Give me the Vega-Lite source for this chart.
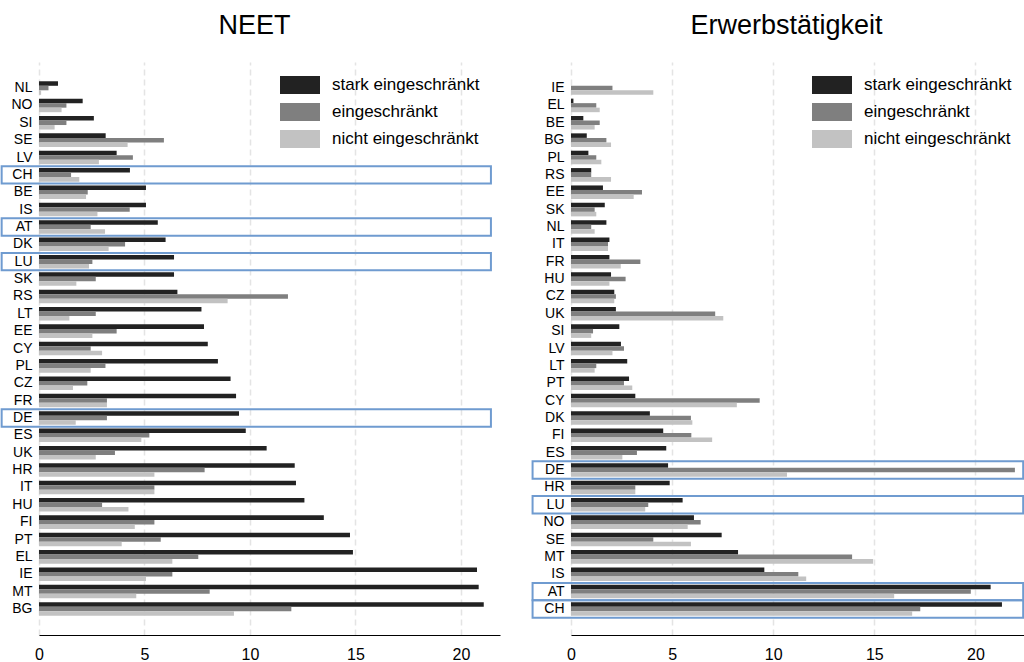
{
  "$schema": "https://vega.github.io/schema/vega-lite/v6.json",
  "padding": {"left": 0, "top": 12, "right": 0, "bottom": 0},
  "background": "white",
  "bounds": "flush",
  "spacing": 71,
  "config": {
    "font": "Liberation Sans",
    "view": {"stroke": null},
    "axisY": {"domain": false, "ticks": false, "tickSize": 0, "labelPadding": 7, "labelFontSize": 14, "labelColor": "black", "grid": false, "title": null},
    "axisX": {"domain": true, "domainColor": "black", "domainWidth": 1, "ticks": false, "tickSize": 0, "labelPadding": 11, "labelFontSize": 16, "labelColor": "black", "grid": true, "gridDash": [6, 4], "gridColor": "#e4e4e4", "gridWidth": 1.5, "title": null, "labelFlush": false},
    "legend": {"orient": "none", "legendX": 251, "legendY": 13, "title": null, "symbolType": "M-2,-0.9L2,-0.9L2,0.9L-2,0.9Z", "symbolSize": 400, "symbolStrokeWidth": 0, "labelFontSize": 17, "labelOffset": 22, "rowPadding": 8, "labelLimit": 300, "labelColor": "black", "padding": 0, "symbolOpacity": 1}
  },
  "resolve": {"scale": {"x": "independent", "y": "independent", "yOffset": "independent", "color": "independent"}, "axis": {"x": "independent", "y": "independent"}, "legend": {"color": "independent"}},
  "datasets": {
    "hl": [{"land": "CH"}, {"land": "AT"}, {"land": "LU"}, {"land": "DE"}],
    "neet": [
      {"land": "NL", "gruppe": "stark eingeschränkt", "wert": 0.9}, {"land": "NL", "gruppe": "eingeschränkt", "wert": 0.45}, {"land": "NL", "gruppe": "nicht eingeschränkt", "wert": 0.1},
      {"land": "NO", "gruppe": "stark eingeschränkt", "wert": 2.07}, {"land": "NO", "gruppe": "eingeschränkt", "wert": 1.3}, {"land": "NO", "gruppe": "nicht eingeschränkt", "wert": 1.07},
      {"land": "SI", "gruppe": "stark eingeschränkt", "wert": 2.6}, {"land": "SI", "gruppe": "eingeschränkt", "wert": 1.3}, {"land": "SI", "gruppe": "nicht eingeschränkt", "wert": 0.74},
      {"land": "SE", "gruppe": "stark eingeschränkt", "wert": 3.16}, {"land": "SE", "gruppe": "eingeschränkt", "wert": 5.92}, {"land": "SE", "gruppe": "nicht eingeschränkt", "wert": 4.2},
      {"land": "LV", "gruppe": "stark eingeschränkt", "wert": 3.68}, {"land": "LV", "gruppe": "eingeschränkt", "wert": 4.45}, {"land": "LV", "gruppe": "nicht eingeschränkt", "wert": 2.84},
      {"land": "CH", "gruppe": "stark eingeschränkt", "wert": 4.31}, {"land": "CH", "gruppe": "eingeschränkt", "wert": 1.52}, {"land": "CH", "gruppe": "nicht eingeschränkt", "wert": 1.91},
      {"land": "BE", "gruppe": "stark eingeschränkt", "wert": 5.07}, {"land": "BE", "gruppe": "eingeschränkt", "wert": 2.31}, {"land": "BE", "gruppe": "nicht eingeschränkt", "wert": 2.23},
      {"land": "IS", "gruppe": "stark eingeschränkt", "wert": 5.07}, {"land": "IS", "gruppe": "eingeschränkt", "wert": 4.3}, {"land": "IS", "gruppe": "nicht eingeschränkt", "wert": 2.77},
      {"land": "AT", "gruppe": "stark eingeschränkt", "wert": 5.63}, {"land": "AT", "gruppe": "eingeschränkt", "wert": 2.45}, {"land": "AT", "gruppe": "nicht eingeschränkt", "wert": 3.13},
      {"land": "DK", "gruppe": "stark eingeschränkt", "wert": 6.0}, {"land": "DK", "gruppe": "eingeschränkt", "wert": 4.08}, {"land": "DK", "gruppe": "nicht eingeschränkt", "wert": 3.3},
      {"land": "LU", "gruppe": "stark eingeschränkt", "wert": 6.4}, {"land": "LU", "gruppe": "eingeschränkt", "wert": 2.53}, {"land": "LU", "gruppe": "nicht eingeschränkt", "wert": 2.37},
      {"land": "SK", "gruppe": "stark eingeschränkt", "wert": 6.4}, {"land": "SK", "gruppe": "eingeschränkt", "wert": 2.69}, {"land": "SK", "gruppe": "nicht eingeschränkt", "wert": 1.77},
      {"land": "RS", "gruppe": "stark eingeschränkt", "wert": 6.56}, {"land": "RS", "gruppe": "eingeschränkt", "wert": 11.8}, {"land": "RS", "gruppe": "nicht eingeschränkt", "wert": 8.94},
      {"land": "LT", "gruppe": "stark eingeschränkt", "wert": 7.7}, {"land": "LT", "gruppe": "eingeschränkt", "wert": 2.69}, {"land": "LT", "gruppe": "nicht eingeschränkt", "wert": 1.44},
      {"land": "EE", "gruppe": "stark eingeschränkt", "wert": 7.82}, {"land": "EE", "gruppe": "eingeschränkt", "wert": 3.68}, {"land": "EE", "gruppe": "nicht eingeschränkt", "wert": 2.53},
      {"land": "CY", "gruppe": "stark eingeschränkt", "wert": 8.0}, {"land": "CY", "gruppe": "eingeschränkt", "wert": 2.45}, {"land": "CY", "gruppe": "nicht eingeschränkt", "wert": 2.99},
      {"land": "PL", "gruppe": "stark eingeschränkt", "wert": 8.48}, {"land": "PL", "gruppe": "eingeschränkt", "wert": 3.15}, {"land": "PL", "gruppe": "nicht eingeschränkt", "wert": 2.45},
      {"land": "CZ", "gruppe": "stark eingeschränkt", "wert": 9.08}, {"land": "CZ", "gruppe": "eingeschränkt", "wert": 2.29}, {"land": "CZ", "gruppe": "nicht eingeschränkt", "wert": 1.61},
      {"land": "FR", "gruppe": "stark eingeschränkt", "wert": 9.34}, {"land": "FR", "gruppe": "eingeschränkt", "wert": 3.22}, {"land": "FR", "gruppe": "nicht eingeschränkt", "wert": 3.22},
      {"land": "DE", "gruppe": "stark eingeschränkt", "wert": 9.48}, {"land": "DE", "gruppe": "eingeschränkt", "wert": 3.22}, {"land": "DE", "gruppe": "nicht eingeschränkt", "wert": 1.74},
      {"land": "ES", "gruppe": "stark eingeschränkt", "wert": 9.8}, {"land": "ES", "gruppe": "eingeschränkt", "wert": 5.23}, {"land": "ES", "gruppe": "nicht eingeschränkt", "wert": 4.85},
      {"land": "UK", "gruppe": "stark eingeschränkt", "wert": 10.79}, {"land": "UK", "gruppe": "eingeschränkt", "wert": 3.6}, {"land": "UK", "gruppe": "nicht eingeschränkt", "wert": 2.69},
      {"land": "HR", "gruppe": "stark eingeschränkt", "wert": 12.12}, {"land": "HR", "gruppe": "eingeschränkt", "wert": 7.85}, {"land": "HR", "gruppe": "nicht eingeschränkt", "wert": 5.47},
      {"land": "IT", "gruppe": "stark eingeschränkt", "wert": 12.18}, {"land": "IT", "gruppe": "eingeschränkt", "wert": 5.47}, {"land": "IT", "gruppe": "nicht eingeschränkt", "wert": 5.47},
      {"land": "HU", "gruppe": "stark eingeschränkt", "wert": 12.58}, {"land": "HU", "gruppe": "eingeschränkt", "wert": 2.99}, {"land": "HU", "gruppe": "nicht eingeschränkt", "wert": 4.24},
      {"land": "FI", "gruppe": "stark eingeschränkt", "wert": 13.5}, {"land": "FI", "gruppe": "eingeschränkt", "wert": 5.47}, {"land": "FI", "gruppe": "nicht eingeschränkt", "wert": 4.54},
      {"land": "PT", "gruppe": "stark eingeschränkt", "wert": 14.74}, {"land": "PT", "gruppe": "eingeschränkt", "wert": 5.77}, {"land": "PT", "gruppe": "nicht eingeschränkt", "wert": 3.92},
      {"land": "EL", "gruppe": "stark eingeschränkt", "wert": 14.88}, {"land": "EL", "gruppe": "eingeschränkt", "wert": 7.55}, {"land": "EL", "gruppe": "nicht eingeschränkt", "wert": 6.32},
      {"land": "IE", "gruppe": "stark eingeschränkt", "wert": 20.76}, {"land": "IE", "gruppe": "eingeschränkt", "wert": 6.32}, {"land": "IE", "gruppe": "nicht eingeschränkt", "wert": 5.07},
      {"land": "MT", "gruppe": "stark eingeschränkt", "wert": 20.84}, {"land": "MT", "gruppe": "eingeschränkt", "wert": 8.09}, {"land": "MT", "gruppe": "nicht eingeschränkt", "wert": 4.61},
      {"land": "BG", "gruppe": "stark eingeschränkt", "wert": 21.08}, {"land": "BG", "gruppe": "eingeschränkt", "wert": 11.96}, {"land": "BG", "gruppe": "nicht eingeschränkt", "wert": 9.24}
    ],
    "erwerb": [
      {"land": "IE", "gruppe": "stark eingeschränkt", "wert": 0}, {"land": "IE", "gruppe": "eingeschränkt", "wert": 2.05}, {"land": "IE", "gruppe": "nicht eingeschränkt", "wert": 4.07},
      {"land": "EL", "gruppe": "stark eingeschränkt", "wert": 0.12}, {"land": "EL", "gruppe": "eingeschränkt", "wert": 1.25}, {"land": "EL", "gruppe": "nicht eingeschränkt", "wert": 1.42},
      {"land": "BE", "gruppe": "stark eingeschränkt", "wert": 0.61}, {"land": "BE", "gruppe": "eingeschränkt", "wert": 1.42}, {"land": "BE", "gruppe": "nicht eingeschränkt", "wert": 1.17},
      {"land": "BG", "gruppe": "stark eingeschränkt", "wert": 0.78}, {"land": "BG", "gruppe": "eingeschränkt", "wert": 1.75}, {"land": "BG", "gruppe": "nicht eingeschränkt", "wert": 1.98},
      {"land": "PL", "gruppe": "stark eingeschränkt", "wert": 0.86}, {"land": "PL", "gruppe": "eingeschränkt", "wert": 1.25}, {"land": "PL", "gruppe": "nicht eingeschränkt", "wert": 1.5},
      {"land": "RS", "gruppe": "stark eingeschränkt", "wert": 1.0}, {"land": "RS", "gruppe": "eingeschränkt", "wert": 1.0}, {"land": "RS", "gruppe": "nicht eingeschränkt", "wert": 1.98},
      {"land": "EE", "gruppe": "stark eingeschränkt", "wert": 1.58}, {"land": "EE", "gruppe": "eingeschränkt", "wert": 3.51}, {"land": "EE", "gruppe": "nicht eingeschränkt", "wert": 3.1},
      {"land": "SK", "gruppe": "stark eingeschränkt", "wert": 1.67}, {"land": "SK", "gruppe": "eingeschränkt", "wert": 1.17}, {"land": "SK", "gruppe": "nicht eingeschränkt", "wert": 1.25},
      {"land": "NL", "gruppe": "stark eingeschränkt", "wert": 1.75}, {"land": "NL", "gruppe": "eingeschränkt", "wert": 1.0}, {"land": "NL", "gruppe": "nicht eingeschränkt", "wert": 1.17},
      {"land": "IT", "gruppe": "stark eingeschränkt", "wert": 1.9}, {"land": "IT", "gruppe": "eingeschränkt", "wert": 1.83}, {"land": "IT", "gruppe": "nicht eingeschränkt", "wert": 1.83},
      {"land": "FR", "gruppe": "stark eingeschränkt", "wert": 1.9}, {"land": "FR", "gruppe": "eingeschränkt", "wert": 3.43}, {"land": "FR", "gruppe": "nicht eingeschränkt", "wert": 2.46},
      {"land": "HU", "gruppe": "stark eingeschränkt", "wert": 1.98}, {"land": "HU", "gruppe": "eingeschränkt", "wert": 2.7}, {"land": "HU", "gruppe": "nicht eingeschränkt", "wert": 1.9},
      {"land": "CZ", "gruppe": "stark eingeschränkt", "wert": 2.14}, {"land": "CZ", "gruppe": "eingeschränkt", "wert": 2.22}, {"land": "CZ", "gruppe": "nicht eingeschränkt", "wert": 2.14},
      {"land": "UK", "gruppe": "stark eingeschränkt", "wert": 2.22}, {"land": "UK", "gruppe": "eingeschränkt", "wert": 7.13}, {"land": "UK", "gruppe": "nicht eingeschränkt", "wert": 7.53},
      {"land": "SI", "gruppe": "stark eingeschränkt", "wert": 2.39}, {"land": "SI", "gruppe": "eingeschränkt", "wert": 1.09}, {"land": "SI", "gruppe": "nicht eingeschränkt", "wert": 1.0},
      {"land": "LV", "gruppe": "stark eingeschränkt", "wert": 2.47}, {"land": "LV", "gruppe": "eingeschränkt", "wert": 2.62}, {"land": "LV", "gruppe": "nicht eingeschränkt", "wert": 2.05},
      {"land": "LT", "gruppe": "stark eingeschränkt", "wert": 2.78}, {"land": "LT", "gruppe": "eingeschränkt", "wert": 1.25}, {"land": "LT", "gruppe": "nicht eingeschränkt", "wert": 1.17},
      {"land": "PT", "gruppe": "stark eingeschränkt", "wert": 2.87}, {"land": "PT", "gruppe": "eingeschränkt", "wert": 2.62}, {"land": "PT", "gruppe": "nicht eingeschränkt", "wert": 3.03},
      {"land": "CY", "gruppe": "stark eingeschränkt", "wert": 3.18}, {"land": "CY", "gruppe": "eingeschränkt", "wert": 9.33}, {"land": "CY", "gruppe": "nicht eingeschränkt", "wert": 8.2},
      {"land": "DK", "gruppe": "stark eingeschränkt", "wert": 3.9}, {"land": "DK", "gruppe": "eingeschränkt", "wert": 5.93}, {"land": "DK", "gruppe": "nicht eingeschränkt", "wert": 6.0},
      {"land": "FI", "gruppe": "stark eingeschränkt", "wert": 4.56}, {"land": "FI", "gruppe": "eingeschränkt", "wert": 5.95}, {"land": "FI", "gruppe": "nicht eingeschränkt", "wert": 6.98},
      {"land": "ES", "gruppe": "stark eingeschränkt", "wert": 4.71}, {"land": "ES", "gruppe": "eingeschränkt", "wert": 3.26}, {"land": "ES", "gruppe": "nicht eingeschränkt", "wert": 2.54},
      {"land": "DE", "gruppe": "stark eingeschränkt", "wert": 4.8}, {"land": "DE", "gruppe": "eingeschränkt", "wert": 21.95}, {"land": "DE", "gruppe": "nicht eingeschränkt", "wert": 10.68},
      {"land": "HR", "gruppe": "stark eingeschränkt", "wert": 4.88}, {"land": "HR", "gruppe": "eingeschränkt", "wert": 3.18}, {"land": "HR", "gruppe": "nicht eingeschränkt", "wert": 3.18},
      {"land": "LU", "gruppe": "stark eingeschränkt", "wert": 5.52}, {"land": "LU", "gruppe": "eingeschränkt", "wert": 3.82}, {"land": "LU", "gruppe": "nicht eingeschränkt", "wert": 3.67},
      {"land": "NO", "gruppe": "stark eingeschränkt", "wert": 6.08}, {"land": "NO", "gruppe": "eingeschränkt", "wert": 6.41}, {"land": "NO", "gruppe": "nicht eingeschränkt", "wert": 5.77},
      {"land": "SE", "gruppe": "stark eingeschränkt", "wert": 7.45}, {"land": "SE", "gruppe": "eingeschränkt", "wert": 4.07}, {"land": "SE", "gruppe": "nicht eingeschränkt", "wert": 5.93},
      {"land": "MT", "gruppe": "stark eingeschränkt", "wert": 8.26}, {"land": "MT", "gruppe": "eingeschränkt", "wert": 13.9}, {"land": "MT", "gruppe": "nicht eingeschränkt", "wert": 14.94},
      {"land": "IS", "gruppe": "stark eingeschränkt", "wert": 9.56}, {"land": "IS", "gruppe": "eingeschränkt", "wert": 11.24}, {"land": "IS", "gruppe": "nicht eingeschränkt", "wert": 11.63},
      {"land": "AT", "gruppe": "stark eingeschränkt", "wert": 20.75}, {"land": "AT", "gruppe": "eingeschränkt", "wert": 19.77}, {"land": "AT", "gruppe": "nicht eingeschränkt", "wert": 15.98},
      {"land": "CH", "gruppe": "stark eingeschränkt", "wert": 21.31}, {"land": "CH", "gruppe": "eingeschränkt", "wert": 17.27}, {"land": "CH", "gruppe": "nicht eingeschränkt", "wert": 16.87}
    ]
  },
  "hconcat": [
    {
      "width": 461,
      "height": 573,
      "title": {"text": "NEET", "fontSize": 27, "fontWeight": "normal", "frame": "group", "anchor": "middle", "dx": -15, "offset": 1, "baseline": "alphabetic", "color": "black"},
      "layer": [
        {
          "data": {"name": "neet"},
          "mark": {"type": "bar"},
          "encoding": {
            "y": {"field": "land", "type": "nominal", "sort": ["NL","NO","SI","SE","LV","CH","BE","IS","AT","DK","LU","SK","RS","LT","EE","CY","PL","CZ","FR","DE","ES","UK","HR","IT","HU","FI","PT","EL","IE","MT","BG"], "scale": {"paddingInner": 0, "paddingOuter": 1}, "title": null},
            "yOffset": {"field": "gruppe", "type": "nominal", "sort": ["stark eingeschränkt", "eingeschränkt", "nicht eingeschränkt"], "scale": {"paddingInner": 0, "paddingOuter": 0.42}},
            "x": {"field": "wert", "type": "quantitative", "scale": {"domain": [0, 21.85], "nice": false, "zero": true}, "axis": {"values": [0, 5, 10, 15, 20]}, "title": null},
            "color": {"field": "gruppe", "type": "nominal", "sort": ["stark eingeschränkt", "eingeschränkt", "nicht eingeschränkt"], "scale": {"domain": ["stark eingeschränkt", "eingeschränkt", "nicht eingeschränkt"], "range": ["#222222", "#7f7f7f", "#c2c2c2"]}}
          }
        },
        {
          "data": {"name": "hl"},
          "mark": {"type": "rect", "fill": "transparent", "stroke": "#6f9bd0", "strokeWidth": 2},
          "encoding": {
            "y": {"field": "land", "type": "nominal", "sort": ["NL","NO","SI","SE","LV","CH","BE","IS","AT","DK","LU","SK","RS","LT","EE","CY","PL","CZ","FR","DE","ES","UK","HR","IT","HU","FI","PT","EL","IE","MT","BG"]},
            "x": {"datum": -1.77},
            "x2": {"datum": 21.42}
          }
        }
      ]
    },
    {
      "width": 453,
      "height": 573,
      "title": {"text": "Erwerbstätigkeit", "fontSize": 27, "fontWeight": "normal", "frame": "group", "anchor": "middle", "dx": -11, "offset": 1, "baseline": "alphabetic", "color": "black"},
      "layer": [
        {
          "data": {"name": "erwerb"},
          "mark": {"type": "bar"},
          "encoding": {
            "y": {"field": "land", "type": "nominal", "sort": ["IE","EL","BE","BG","PL","RS","EE","SK","NL","IT","FR","HU","CZ","UK","SI","LV","LT","PT","CY","DK","FI","ES","DE","HR","LU","NO","SE","MT","IS","AT","CH"], "scale": {"paddingInner": 0, "paddingOuter": 1}, "title": null},
            "yOffset": {"field": "gruppe", "type": "nominal", "sort": ["stark eingeschränkt", "eingeschränkt", "nicht eingeschränkt"], "scale": {"paddingInner": 0, "paddingOuter": 0.42}},
            "x": {"field": "wert", "type": "quantitative", "scale": {"domain": [0, 22.4], "nice": false, "zero": true}, "axis": {"values": [0, 5, 10, 15, 20]}, "title": null},
            "color": {"field": "gruppe", "type": "nominal", "sort": ["stark eingeschränkt", "eingeschränkt", "nicht eingeschränkt"], "scale": {"domain": ["stark eingeschränkt", "eingeschränkt", "nicht eingeschränkt"], "range": ["#222222", "#7f7f7f", "#c2c2c2"]}}
          }
        },
        {
          "data": {"name": "hl"},
          "mark": {"type": "rect", "fill": "transparent", "stroke": "#6f9bd0", "strokeWidth": 2},
          "encoding": {
            "y": {"field": "land", "type": "nominal", "sort": ["IE","EL","BE","BG","PL","RS","EE","SK","NL","IT","FR","HU","CZ","UK","SI","LV","LT","PT","CY","DK","FI","ES","DE","HR","LU","NO","SE","MT","IS","AT","CH"]},
            "x": {"datum": -1.9},
            "x2": {"datum": 22.36}
          }
        }
      ]
    }
  ]
}
